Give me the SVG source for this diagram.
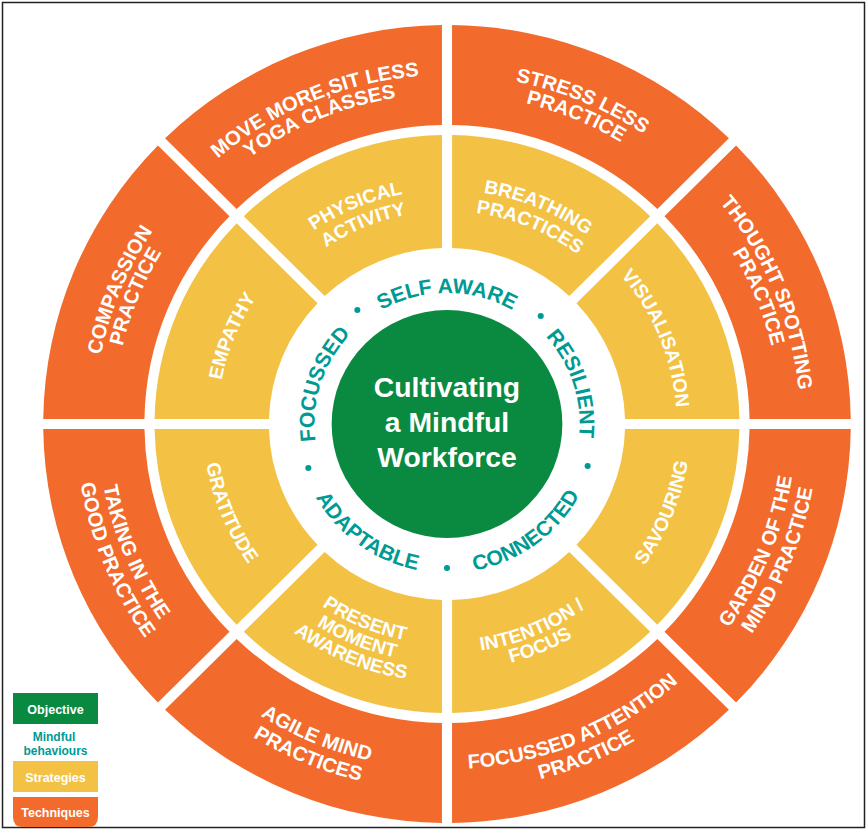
<svg xmlns="http://www.w3.org/2000/svg" xmlns:xlink="http://www.w3.org/1999/xlink" width="867" height="832" viewBox="0 0 867 832">
<style>
.o{fill:#F26A2C}
.y{fill:#F3C244}
.g{fill:#0A8A40}
.tt{font-family:"Liberation Sans",Arial,sans-serif;font-weight:bold;fill:#fff;text-anchor:middle}
.ot{font-size:20px}
.yt{font-size:19px}
.mt{font-family:"Liberation Sans",Arial,sans-serif;font-weight:bold;fill:#009A94;text-anchor:middle;font-size:21px}
.ct{font-size:28px}
.lg{font-family:"Liberation Sans",Arial,sans-serif;font-weight:bold;font-size:12.5px;text-anchor:middle}
.lm{font-family:"Liberation Sans",Arial,sans-serif;font-weight:bold;font-size:12px;text-anchor:middle;fill:#009A94}
</style>
<defs>
<path id="oseg" d="M5 -398.97 A399 399 0 0 1 278.58 -285.65 L207.86 -214.93 A299 299 0 0 0 5 -298.96 Z"/>
<path id="yseg" d="M5 -288.96 A289 289 0 0 1 200.79 -207.86 L120.87 -127.94 A176 176 0 0 0 5 -175.93 Z"/>
<path id="po349" d="M-327.96 -119.36 A349 349 0 0 1 327.96 -119.36"/>
<path id="po330" d="M-310.10 -112.86 A330 330 0 0 1 310.10 -112.86"/>
<path id="pi345" d="M-324.20 117.99 A345 345 0 0 0 324.20 117.99"/>
<path id="pi367" d="M-344.87 125.51 A367 367 0 0 0 344.87 125.51"/>
<path id="py234" d="M-219.89 -80.03 A234 234 0 0 1 219.89 -80.03"/>
<path id="py213" d="M-200.16 -72.85 A213 213 0 0 1 200.16 -72.85"/>
<path id="py227" d="M-213.31 -77.63 A227 227 0 0 1 213.31 -77.63"/>
<path id="pyi241" d="M-226.47 82.42 A241 241 0 0 0 226.47 82.42"/>
<path id="pyi229" d="M-215.19 78.32 A229 229 0 0 0 215.19 78.32"/>
<path id="pyi247" d="M-232.11 84.47 A247 247 0 0 0 232.11 84.47"/>
<path id="pyi220" d="M-206.73 75.24 A220 220 0 0 0 206.73 75.24"/>
<path id="pyi239" d="M-224.59 81.74 A239 239 0 0 0 224.59 81.74"/>
<path id="pyi258" d="M-242.44 88.24 A258 258 0 0 0 242.44 88.24"/>
<path id="pt131" d="M-123.10 -44.80 A131 131 0 0 1 123.10 -44.80"/>
<path id="pt149" d="M-140.02 50.96 A149 149 0 0 0 140.02 50.96"/>
</defs>
<rect x="2.5" y="2.5" width="862" height="825" fill="#fff" stroke="#222" stroke-width="1.5"/>
<g transform="translate(447,424) scale(1.012,1)">
<!-- Techniques (orange ring) -->
<g id="t-stress-less"><use href="#oseg" class="o"/>
<text class="tt ot" transform="rotate(22.5)"><textPath href="#po349" startOffset="50%">STRESS LESS</textPath></text>
<text class="tt ot" transform="rotate(22.5)"><textPath href="#po330" startOffset="50%">PRACTICE</textPath></text></g>
<g id="t-thought-spotting"><use href="#oseg" class="o" transform="rotate(45)"/>
<text class="tt ot" transform="rotate(67.5)"><textPath href="#po349" startOffset="50%">THOUGHT SPOTTING</textPath></text>
<text class="tt ot" transform="rotate(67.5)"><textPath href="#po330" startOffset="50%">PRACTICE</textPath></text></g>
<g id="t-garden"><use href="#oseg" class="o" transform="rotate(90)"/>
<text class="tt ot" transform="rotate(-67.5)"><textPath href="#pi345" startOffset="50%">GARDEN OF THE</textPath></text>
<text class="tt ot" transform="rotate(-67.5)"><textPath href="#pi367" startOffset="50%">MIND PRACTICE</textPath></text></g>
<g id="t-focussed-attention"><use href="#oseg" class="o" transform="rotate(135)"/>
<text class="tt ot" transform="rotate(-22.5)"><textPath href="#pi345" startOffset="50%">FOCUSSED ATTENTION</textPath></text>
<text class="tt ot" transform="rotate(-22.5)"><textPath href="#pi367" startOffset="50%">PRACTICE</textPath></text></g>
<g id="t-agile-mind"><use href="#oseg" class="o" transform="rotate(180)"/>
<text class="tt ot" transform="rotate(22.5)"><textPath href="#pi345" startOffset="50%">AGILE MIND</textPath></text>
<text class="tt ot" transform="rotate(22.5)"><textPath href="#pi367" startOffset="50%">PRACTICES</textPath></text></g>
<g id="t-taking-in-good"><use href="#oseg" class="o" transform="rotate(225)"/>
<text class="tt ot" transform="rotate(67.5)"><textPath href="#pi345" startOffset="50%">TAKING IN THE</textPath></text>
<text class="tt ot" transform="rotate(67.5)"><textPath href="#pi367" startOffset="50%">GOOD PRACTICE</textPath></text></g>
<g id="t-compassion"><use href="#oseg" class="o" transform="rotate(270)"/>
<text class="tt ot" transform="rotate(-67.5)"><textPath href="#po349" startOffset="50%">COMPASSION</textPath></text>
<text class="tt ot" transform="rotate(-67.5)"><textPath href="#po330" startOffset="50%">PRACTICE</textPath></text></g>
<g id="t-move-more"><use href="#oseg" class="o" transform="rotate(315)"/>
<text class="tt ot" transform="rotate(-22.5)"><textPath href="#po349" startOffset="50%">MOVE MORE,SIT LESS</textPath></text>
<text class="tt ot" transform="rotate(-22.5)"><textPath href="#po330" startOffset="50%">YOGA CLASSES</textPath></text></g>
<!-- Strategies (yellow ring) -->
<g id="s-breathing"><use href="#yseg" class="y"/>
<text class="tt yt" transform="rotate(22.5)"><textPath href="#py234" startOffset="50%">BREATHING</textPath></text>
<text class="tt yt" transform="rotate(22.5)"><textPath href="#py213" startOffset="50%">PRACTICES</textPath></text></g>
<g id="s-visualisation"><use href="#yseg" class="y" transform="rotate(45)"/>
<text class="tt yt" transform="rotate(67.5)"><textPath href="#py227" startOffset="50%">VISUALISATION</textPath></text></g>
<g id="s-savouring"><use href="#yseg" class="y" transform="rotate(90)"/>
<text class="tt yt" transform="rotate(-67.5)"><textPath href="#pyi241" startOffset="50%">SAVOURING</textPath></text></g>
<g id="s-intention"><use href="#yseg" class="y" transform="rotate(135)"/>
<text class="tt yt" transform="rotate(-22.5)"><textPath href="#pyi229" startOffset="50%">INTENTION /</textPath></text>
<text class="tt yt" transform="rotate(-22.5)"><textPath href="#pyi247" startOffset="50%">FOCUS</textPath></text></g>
<g id="s-present"><use href="#yseg" class="y" transform="rotate(180)"/>
<text class="tt yt" transform="rotate(22.5)"><textPath href="#pyi220" startOffset="50%">PRESENT</textPath></text>
<text class="tt yt" transform="rotate(22.5)"><textPath href="#pyi239" startOffset="50%">MOMENT</textPath></text>
<text class="tt yt" transform="rotate(22.5)"><textPath href="#pyi258" startOffset="50%">AWARENESS</textPath></text></g>
<g id="s-gratitude"><use href="#yseg" class="y" transform="rotate(225)"/>
<text class="tt yt" transform="rotate(67.5)"><textPath href="#pyi241" startOffset="50%">GRATITUDE</textPath></text></g>
<g id="s-empathy"><use href="#yseg" class="y" transform="rotate(270)"/>
<text class="tt yt" transform="rotate(-67.5)"><textPath href="#py227" startOffset="50%">EMPATHY</textPath></text></g>
<g id="s-physical"><use href="#yseg" class="y" transform="rotate(315)"/>
<text class="tt yt" transform="rotate(-22.5)"><textPath href="#py234" startOffset="50%">PHYSICAL</textPath></text>
<text class="tt yt" transform="rotate(-22.5)"><textPath href="#py213" startOffset="50%">ACTIVITY</textPath></text></g>
<!-- Mindful behaviours ring -->
<g id="behaviours">
<text class="mt"><textPath href="#pt131" startOffset="50%">SELF AWARE</textPath></text>
<text class="mt" transform="rotate(72)"><textPath href="#pt131" startOffset="50%">RESILIENT</textPath></text>
<text class="mt" transform="rotate(-36)"><textPath href="#pt149" startOffset="50%">CONNECTED</textPath></text>
<text class="mt" transform="rotate(36)"><textPath href="#pt149" startOffset="50%">ADAPTABLE</textPath></text>
<text class="mt" transform="rotate(-72)"><textPath href="#pt131" startOffset="50%">FOCUSSED</textPath></text>
<g fill="#009A94">
<circle cx="139" cy="42" r="3"/>
<circle cx="0" cy="144" r="3"/>
<circle cx="-137" cy="44" r="3"/>
<circle cx="-88.6" cy="-114" r="3"/>
<circle cx="92.6" cy="-108" r="3"/>
</g>
</g>
<!-- Objective -->
<g id="objective">
<circle cx="0" cy="0" r="114" class="g"/>
<text class="tt ct" x="0" y="-27">Cultivating</text>
<text class="tt ct" x="0" y="8">a Mindful</text>
<text class="tt ct" x="0" y="43">Workforce</text>
</g>
</g>
<!-- Legend -->
<g id="legend">
<rect x="13" y="693" width="85" height="31" class="g"/>
<text class="lg" x="55.5" y="714" fill="#fff">Objective</text>
<text class="lm" x="54" y="741">Mindful</text>
<text class="lm" x="55.5" y="755">behaviours</text>
<rect x="13" y="761" width="85" height="31" class="y"/>
<text class="lg" x="55.5" y="782" fill="#fff">Strategies</text>
<path d="M13 797 H98 V817 Q98 827 88 827 H23 Q13 827 13 817 Z" class="o"/>
<text class="lg" x="55.5" y="817" fill="#fff">Techniques</text>
</g>
</svg>
